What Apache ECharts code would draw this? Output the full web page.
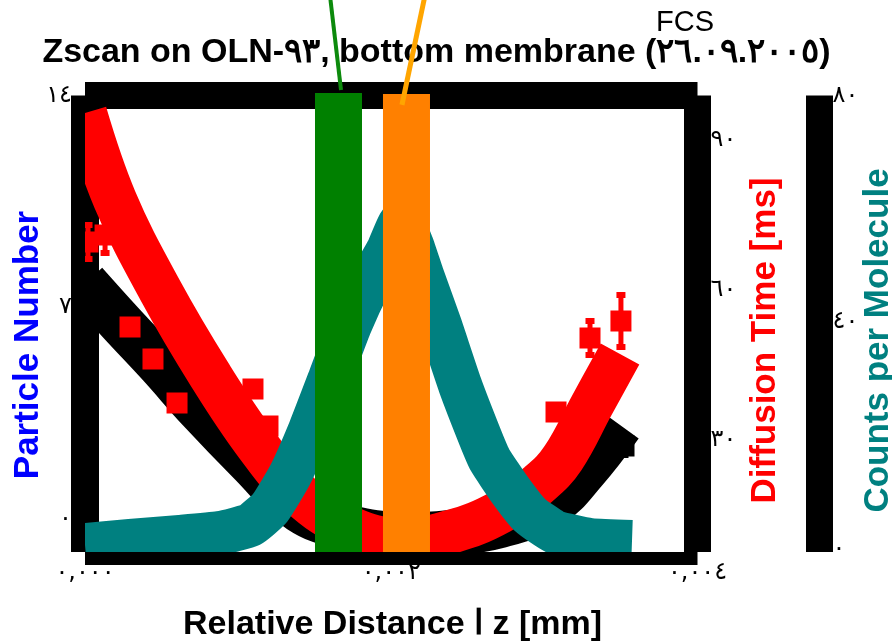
<!DOCTYPE html>
<html>
<head>
<meta charset="utf-8">
<script src="https://cdn.jsdelivr.net/npm/echarts@6/dist/echarts.min.js"></script>
<style>
  html, body { margin: 0; padding: 0; background: #fff; }
  #chart { width: 892px; height: 643px; }
</style>
</head>
<body>
<div id="chart"></div>
<script>
// Tick values and their printed labels
const xTicks = [0, 0.002, 0.004];
const xTickLabels = ['٠,٠٠٠', '٠,٠٠٢', '٠,٠٠٤'];
const particleTicks = [0, 7, 14];
const particleTickLabels = ['٠', '٧', '١٤'];
const diffusionTicks = [30, 60, 90];
const diffusionTickLabels = ['٣٠', '٦٠', '٩٠'];
const countsTicks = [0, 40, 80];
const countsTickLabels = ['٠', '٤٠', '٨٠'];

// Particle number fit (left axis)
const particleFitZ = [0, 0.000229, 0.000490, 0.000751, 0.001078, 0.001404, 0.001731, 0.002057, 0.002384, 0.002710, 0.003037, 0.003265, 0.003494];
const particleFit  = [7.80, 6.51, 5.09, 3.60, 1.88, 0.29, -0.31, -0.54, -0.47, -0.21, 0.45, 1.61, 3.10];

// Particle number measurement
const particlePointZ = [0.00352];
const particlePoint = [2.41];
const particleErrLow = [2.01];
const particleErrHigh = [2.70];

// Diffusion time fit (right axis, ms)
const diffusionFitZ = [0, 0.000196, 0.000490, 0.000816, 0.001123, 0.001404, 0.001731, 0.002057, 0.002384, 0.002710, 0.002971, 0.003122, 0.003311, 0.003494];
const diffusionFit  = [95.4, 78.0, 60.0, 43.0, 29.0, 19.0, 12.4, 10.0, 11.6, 15.6, 21.4, 26.4, 37.0, 47.2];

// Diffusion time measurements
const diffusionPointZ = [0.0000196, 0.000131, 0.000294, 0.000444, 0.000601, 0.001097, 0.001195, 0.003076, 0.003298, 0.003500];
const diffusionPoint  = [69.6, 71.0, 52.6, 46.2, 37.4, 40.2, 32.8, 35.6, 50.4, 53.8];
const diffusionErrZ    = [0.0000196, 0.000131, 0.003298, 0.003500];
const diffusionErrLow  = [65.6, 66.8, 46.4, 48.0];
const diffusionErrHigh = [73.6, 72.8, 54.4, 59.6];

// Counts per molecule (third axis)
const countsZ = [0, 0.000294, 0.000620, 0.000882, 0.001078, 0.001208, 0.001339, 0.001469, 0.001600, 0.001731, 0.001861, 0.001979, 0.002064, 0.002135, 0.002201, 0.002318, 0.002449, 0.002580, 0.002645, 0.002776, 0.002906, 0.003069, 0.003298, 0.003572];
const counts  = [0.71, 1.41, 2.12, 2.82, 4.23, 7.23, 13.05, 20.99, 30.16, 39.51, 47.10, 52.74, 57.68, 53.63, 48.33, 39.51, 28.93, 19.76, 15.70, 10.41, 6.00, 3.00, 1.59, 1.23];

// Marked focal windows with their pointer lines
const windowStart = [0.001502, 0.001946];
const windowEnd   = [0.001809, 0.002253];
const windowTop   = [14.08, 14.05];
const windowColors = ['#008000', '#FF8000'];
const pointerTipZ   = [0.001672, 0.002070];
const pointerTipY   = [14.18, 13.69];
const pointerTailZ  = [0.001600, 0.002220];
const pointerTailY  = [17.3, 17.3];
const pointerColors = ['#0C8A0C', '#FFA500'];
const pointerWidths = [4, 5];

const particleRange = [-1.1, 14];
const diffusionRange = [7.6, 98.9];
const countsRange = [-0.53, 80];

const pairs = (xs, ys) => xs.map((x, i) => [x, ys[i]]);
const tickName = (ticks, labels) => v => {
  const i = ticks.findIndex(t => Math.abs(t - v) < 1e-9);
  return i < 0 ? '' : labels[i];
};

const digitFont = { fontFamily: 'DejaVu Sans', fontSize: 24, color: '#000' };
const frameLine = w => ({ color: '#000', width: w, cap: 'butt' });

// One thick polyline through all points of a series, clipped to the plot rectangle
function thickCurve(xs, ys, color, width, smooth) {
  return function (params, api) {
    if (params.dataIndex !== 0) return null;
    const points = xs.map((x, i) => api.coord([x, ys[i]]));
    return {
      type: 'polyline',
      shape: { points: points, smooth: smooth },
      style: { stroke: color, lineWidth: width, fill: null, lineCap: 'butt', lineJoin: 'round' }
    };
  };
}

// Filled square markers
function squares(color, size) {
  return function (params, api) {
    const p = api.coord([api.value(0), api.value(1)]);
    return { type: 'rect', shape: { x: p[0] - size / 2, y: p[1] - size / 2, width: size, height: size }, style: { fill: color } };
  };
}

// Vertical error bars with block caps
function errorBars(color) {
  return function (params, api) {
    const x = api.value(0);
    const lo = api.coord([x, api.value(1)]);
    const hi = api.coord([x, api.value(2)]);
    const stem = 5, capW = 9, capH = 6;
    return {
      type: 'group',
      children: [
        { type: 'rect', shape: { x: lo[0] - stem / 2, y: hi[1], width: stem, height: lo[1] - hi[1] }, style: { fill: color } },
        { type: 'rect', shape: { x: hi[0] - capW / 2, y: hi[1], width: capW, height: capH }, style: { fill: color } },
        { type: 'rect', shape: { x: lo[0] - capW / 2, y: lo[1] - capH, width: capW, height: capH }, style: { fill: color } }
      ]
    };
  };
}

function focalWindows(params, api) {
  const i = params.dataIndex;
  const a = api.coord([api.value(0), api.value(2)]);
  const b = api.coord([api.value(1), particleRange[0]]);
  const tip = api.coord([pointerTipZ[i], pointerTipY[i]]);
  const tail = api.coord([pointerTailZ[i], pointerTailY[i]]);
  return {
    type: 'group',
    children: [
      { type: 'rect', shape: { x: a[0], y: a[1], width: b[0] - a[0], height: b[1] - a[1] }, style: { fill: windowColors[i] } },
      { type: 'line', shape: { x1: tail[0], y1: tail[1], x2: tip[0], y2: tip[1] }, style: { stroke: pointerColors[i], lineWidth: pointerWidths[i] } }
    ]
  };
}

const chart = echarts.init(document.getElementById('chart'), null, { renderer: 'canvas' });

chart.setOption({
  animation: false,
  backgroundColor: '#fff',
  grid: { left: 85, right: 194.5, top: 95.5, bottom: 91, containLabel: false },
  xAxis: [
    {
      type: 'value', position: 'bottom', min: 0, max: 0.004, offset: 6.5,
      axisLine: { show: true, onZero: false, lineStyle: frameLine(13) },
      axisTick: { show: false }, splitLine: { show: false },
      axisLabel: Object.assign({ customValues: xTicks, formatter: tickName(xTicks, xTickLabels), margin: 2 }, digitFont)
    },
    {
      type: 'value', position: 'top', min: 0, max: 0.004,
      axisLine: { show: true, onZero: false, lineStyle: frameLine(27) },
      axisTick: { show: false }, splitLine: { show: false }, axisLabel: { show: false }
    }
  ],
  yAxis: [
    {
      type: 'value', position: 'left', min: particleRange[0], max: particleRange[1],
      axisLine: { show: true, onZero: false, lineStyle: frameLine(28) },
      axisTick: { show: false }, splitLine: { show: false },
      axisLabel: Object.assign({ customValues: particleTicks, formatter: tickName(particleTicks, particleTickLabels), margin: 13 }, digitFont)
    },
    {
      type: 'value', position: 'right', min: diffusionRange[0], max: diffusionRange[1],
      axisLine: { show: true, onZero: false, lineStyle: frameLine(27) },
      axisTick: { show: false }, splitLine: { show: false },
      axisLabel: Object.assign({ customValues: diffusionTicks, formatter: tickName(diffusionTicks, diffusionTickLabels), margin: 13 }, digitFont)
    },
    {
      type: 'value', position: 'right', offset: 122, min: countsRange[0], max: countsRange[1],
      axisLine: { show: true, onZero: false, lineStyle: frameLine(27) },
      axisTick: { show: false }, splitLine: { show: false },
      axisLabel: Object.assign({ customValues: countsTicks, formatter: tickName(countsTicks, countsTickLabels), margin: 13 }, digitFont)
    }
  ],
  graphic: [
    { type: 'text', x: 436.5, y: 53, style: { text: 'Zscan on OLN-٩٣, bottom membrane (٢٦.٠٩.٢٠٠٥)', font: 'bold 34px "Liberation Sans"', fill: '#000', align: 'center', verticalAlign: 'middle' } },
    { type: 'text', x: 685, y: 23, style: { text: 'FCS', font: '29px "Liberation Sans"', fill: '#000', align: 'center', verticalAlign: 'middle' } },
    { type: 'text', x: 28, y: 345, rotation: Math.PI / 2, style: { text: 'Particle Number', font: 'bold 35px "Liberation Sans"', fill: '#0000FF', align: 'center', verticalAlign: 'middle' } },
    { type: 'text', x: 765, y: 340.5, rotation: Math.PI / 2, style: { text: 'Diffusion Time [ms]', font: 'bold 35px "Liberation Sans"', fill: '#FF0000', align: 'center', verticalAlign: 'middle' } },
    { type: 'text', x: 878, y: 340.5, rotation: Math.PI / 2, style: { text: 'Counts per Molecule', font: 'bold 35px "Liberation Sans"', fill: '#008080', align: 'center', verticalAlign: 'middle' } },
    { type: 'text', x: 392.5, y: 625, style: { text: 'Relative Distance ا z [mm]', font: 'bold 34px "Liberation Sans"', fill: '#000', align: 'center', verticalAlign: 'middle' } }
  ],
  series: [
    {
      name: 'Particle Number fit', type: 'custom', xAxisIndex: 0, yAxisIndex: 0, z: 2, clip: true,
      data: pairs(particleFitZ, particleFit),
      renderItem: thickCurve(particleFitZ, particleFit, '#000', 46, 0.4)
    },
    {
      name: 'Particle Number', type: 'custom', xAxisIndex: 0, yAxisIndex: 0, z: 2, clip: true,
      data: pairs(particlePointZ, particlePoint), renderItem: squares('#000', 21)
    },
    {
      name: 'Particle Number error', type: 'custom', xAxisIndex: 0, yAxisIndex: 0, z: 2, clip: true,
      data: particlePointZ.map((x, i) => [x, particleErrLow[i], particleErrHigh[i]]),
      renderItem: errorBars('#000')
    },
    {
      name: 'Diffusion Time fit', type: 'custom', xAxisIndex: 0, yAxisIndex: 1, z: 3, clip: true,
      data: pairs(diffusionFitZ, diffusionFit),
      renderItem: thickCurve(diffusionFitZ, diffusionFit, '#FF0000', 44, 0.4)
    },
    {
      name: 'Diffusion Time', type: 'custom', xAxisIndex: 0, yAxisIndex: 1, z: 3, clip: true,
      data: pairs(diffusionPointZ, diffusionPoint), renderItem: squares('#FF0000', 21)
    },
    {
      name: 'Diffusion Time error', type: 'custom', xAxisIndex: 0, yAxisIndex: 1, z: 3, clip: true,
      data: diffusionErrZ.map((x, i) => [x, diffusionErrLow[i], diffusionErrHigh[i]]),
      renderItem: errorBars('#FF0000')
    },
    {
      name: 'Counts per Molecule', type: 'custom', xAxisIndex: 0, yAxisIndex: 2, z: 4, clip: true,
      data: pairs(countsZ, counts),
      renderItem: thickCurve(countsZ, counts, '#008080', 44, 0.15)
    },
    {
      name: 'Focal windows', type: 'custom', xAxisIndex: 0, yAxisIndex: 0, z: 5, clip: false,
      data: windowStart.map((s, i) => [s, windowEnd[i], windowTop[i]]),
      renderItem: focalWindows
    }
  ]
});
</script>
</body>
</html>
